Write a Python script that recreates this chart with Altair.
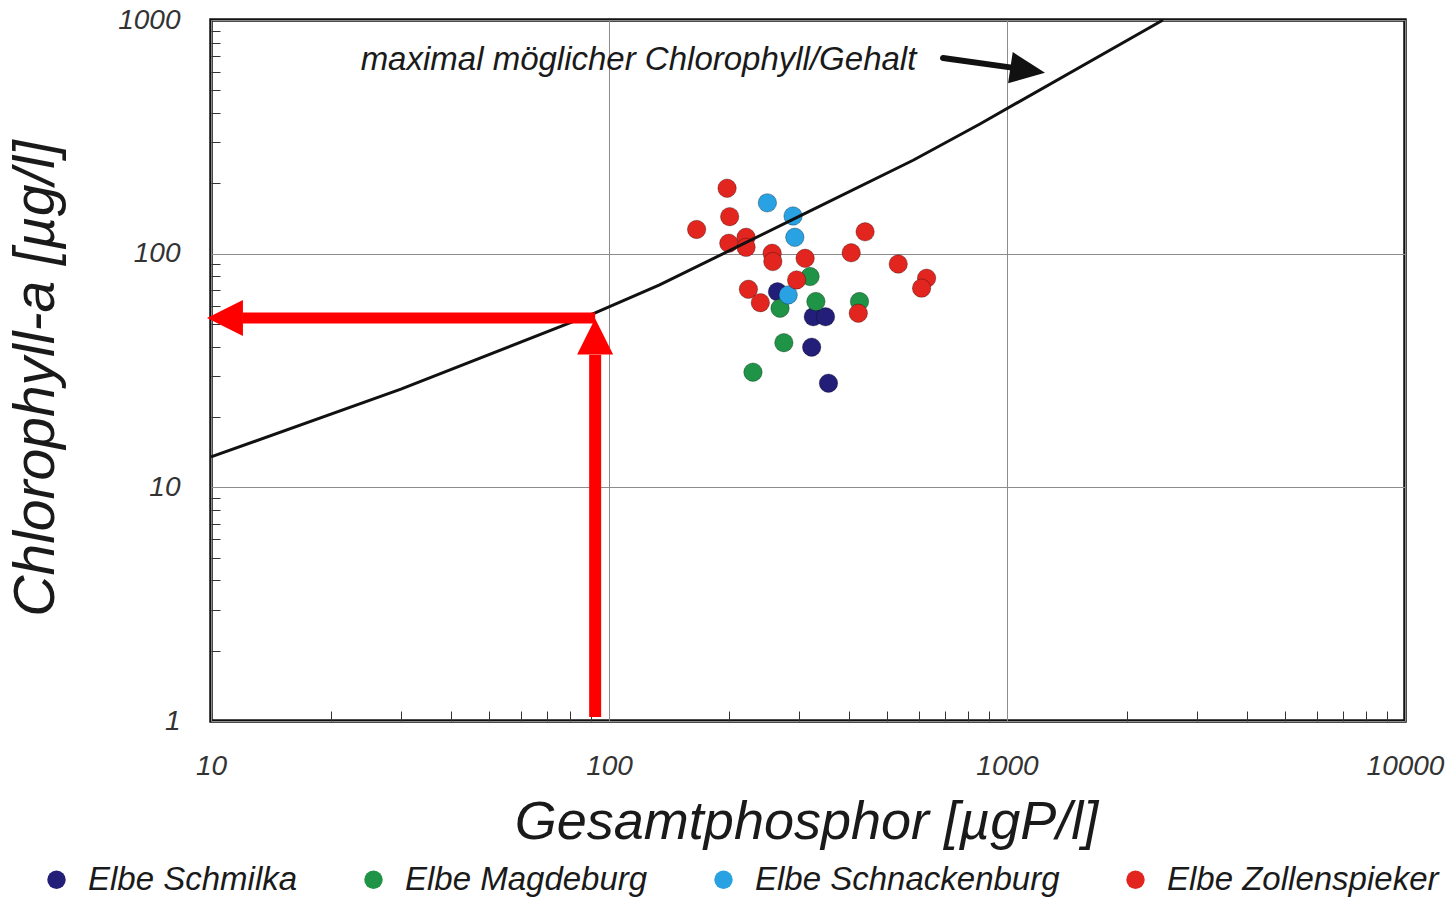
import altair as alt
import pandas as pd

FONT = "Liberation Sans"

# Gesamtphosphor [µgP/l] and Chlorophyll-a [µg/l] per Elbe station
schmilka_tp = [265, 326, 350, 323, 356]
schmilka_chl = [68.7, 53.7, 53.7, 39.8, 27.9]
magdeburg_tp = [320, 331, 269, 426, 275, 230]
magdeburg_chl = [79.8, 62.4, 58.4, 62.4, 41.6, 31.1]
schnackenburg_tp = [250, 290, 293, 282]
schnackenburg_chl = [165, 145, 117.5, 66.6]
zollenspieker_tp = [198, 201, 166, 200, 221, 221, 257, 258, 311, 296, 224, 240,
                    440, 406, 533, 628, 610, 423]
zollenspieker_chl = [190.5, 144, 127, 110.8, 117.5, 106.4, 100.4, 92.5, 95.5, 77.2,
                     70.4, 61.7, 124, 100.9, 90.3, 78.5, 71.2, 55.6]

stations = ["Elbe Schmilka", "Elbe Magdeburg", "Elbe Schnackenburg", "Elbe Zollenspieker"]
station_colors = ["#231f78", "#1f9447", "#28a2e2", "#e2261f"]

# curve of the maximum possible chlorophyll content
limit_tp = [10, 30, 92, 134, 302, 581, 855, 2466]
limit_chl = [13.5, 26.3, 55.7, 73.5, 145, 251, 359, 1000]

# reading example: TP of ~92 µgP/l allows ~53 µg/l chlorophyll
example_tp = 92.3
example_chl = 53.1

# axis values
x_major = [10, 100, 1000, 10000]
y_major = [1, 10, 100, 1000]
x_minor = [20, 30, 40, 50, 60, 70, 80, 90, 200, 300, 400, 500, 600, 700, 800, 900,
           2000, 3000, 4000, 5000, 6000, 7000, 8000, 9000]
y_minor = [2, 3, 4, 5, 6, 7, 8, 9, 20, 30, 40, 50, 60, 70, 80, 90,
           200, 300, 400, 500, 600, 700, 800, 900]

annotation = "maximal möglicher Chlorophyll/Gehalt"

rows = []
for name, tps, chls in [
    (stations[0], schmilka_tp, schmilka_chl),
    (stations[1], magdeburg_tp, magdeburg_chl),
    (stations[2], schnackenburg_tp, schnackenburg_chl),
    (stations[3], zollenspieker_tp, zollenspieker_chl),
]:
    for tp, chl in zip(tps, chls):
        rows.append({"tp": tp, "chl": chl, "station": name})
points = pd.DataFrame(rows)
limit = pd.DataFrame({"tp": limit_tp, "chl": limit_chl})

xs = alt.Scale(type="log", domain=[10, 10000], nice=False)
ys = alt.Scale(type="log", domain=[1, 1000], nice=False)

label_style = dict(labelFont=FONT, labelFontSize=28, labelFontStyle="italic",
                   labelColor="#333333", labelFlush=False, labelOverlap=False)
title_style = dict(titleFont=FONT, titleFontStyle="italic",
                   titleFontWeight="normal", titleColor="#1a1a1a",
                   titleAlign="center", titleBaseline="alphabetic")

x_axis = alt.Axis(orient="bottom", values=x_major, format=".0f", grid=True,
                  gridColor="#8c8c8c", gridWidth=1, ticks=False, domain=False,
                  labelPadding=31, title="Gesamtphosphor [µgP/l]",
                  titleFontSize=54, titleX=595, titleY=117,
                  **label_style, **title_style)
y_axis = alt.Axis(orient="left", values=y_major, format=".0f", grid=True,
                  gridColor="#8c8c8c", gridWidth=1, ticks=False, domain=False,
                  labelPadding=31, title="Chlorophyll-a [µg/l]",
                  titleFontSize=57, titleX=-158, titleY=358, titleAngle=270,
                  **label_style, **title_style)

# minor ticks drawn inward from the frame
x_minor_axis = alt.Axis(orient="bottom", values=x_minor, grid=False, labels=False,
                        domain=False, ticks=True, tickSize=10, tickColor="#333333",
                        tickWidth=1, offset=-10, title=None)
y_minor_axis = alt.Axis(orient="left", values=y_minor, grid=False, labels=False,
                        domain=False, ticks=True, tickSize=9, tickColor="#333333",
                        tickWidth=1, offset=-9, title=None)

axes_layer = alt.Chart(limit).mark_line(strokeOpacity=0).encode(
    x=alt.X("tp:Q", scale=xs, axis=x_axis),
    y=alt.Y("chl:Q", scale=ys, axis=y_axis),
)
minor_layer = alt.Chart(limit).mark_line(strokeOpacity=0).encode(
    x=alt.X("tp:Q", scale=xs, axis=x_minor_axis),
    y=alt.Y("chl:Q", scale=ys, axis=y_minor_axis),
)

scatter = alt.Chart(points).mark_circle(
    size=340, opacity=1, stroke="#000000", strokeOpacity=0.3, strokeWidth=1
).encode(
    x=alt.X("tp:Q", scale=xs, axis=None),
    y=alt.Y("chl:Q", scale=ys, axis=None),
    color=alt.Color(
        "station:N",
        scale=alt.Scale(domain=stations, range=station_colors),
        legend=alt.Legend(
            title=None, orient="none", legendX=-171, legendY=843,
            direction="horizontal", padding=0,
            labelFont=FONT, labelFontSize=33, labelFontStyle="italic",
            labelColor="#1a1a1a", labelLimit=500, labelOffset=15,
            columnPadding=59, symbolType="circle", symbolSize=340,
            symbolStrokeWidth=0, symbolOpacity=1,
        ),
    ),
)

limit_line = alt.Chart(limit).mark_line(color="#111111", strokeWidth=3).encode(
    x=alt.X("tp:Q", scale=xs, axis=None),
    y=alt.Y("chl:Q", scale=ys, axis=None),
)

# red reading arrows (shafts and heads)
shafts = pd.DataFrame({
    "x": [example_tp, example_tp],
    "y": [1.04, example_chl],
    "x2": [example_tp, 12.0],
    "y2": [36.9, example_chl],
    "w": [12, 11],
})
red_shafts = alt.Chart(shafts).mark_rule(color="#ff0000", strokeCap="butt").encode(
    x=alt.X("x:Q", scale=xs, axis=None),
    y=alt.Y("y:Q", scale=ys, axis=None),
    x2="x2:Q", y2="y2:Q",
    strokeWidth=alt.StrokeWidth("w:Q", scale=None),
)
up_head = alt.Chart(pd.DataFrame({"x": [example_tp], "y": [44.2]})).mark_point(
    shape="M0,-1L1,1L-1,1Z", filled=True, size=1296, color="#ff0000",
    opacity=1, strokeWidth=0,
).encode(x=alt.X("x:Q", scale=xs, axis=None), y=alt.Y("y:Q", scale=ys, axis=None))
left_head = alt.Chart(pd.DataFrame({"x": [10.84], "y": [example_chl]})).mark_point(
    shape="M-1,0L1,-1L1,1Z", filled=True, size=1296, color="#ff0000",
    opacity=1, strokeWidth=0,
).encode(x=alt.X("x:Q", scale=xs, axis=None), y=alt.Y("y:Q", scale=ys, axis=None))

# black arrow pointing at the limit curve
pointer = alt.Chart(pd.DataFrame({"x": [690.6], "y": [687.9], "x2": [1029.4], "y2": [625.3]})).mark_rule(
    color="#111111", strokeWidth=6, strokeCap="round"
).encode(
    x=alt.X("x:Q", scale=xs, axis=None), y=alt.Y("y:Q", scale=ys, axis=None),
    x2="x2:Q", y2="y2:Q",
)
pointer_head = alt.Chart(pd.DataFrame({"x": [1127.3], "y": [609.5]})).mark_point(
    shape="M1,0L-1,-0.9L-1,0.9Z", filled=True, size=1225, color="#111111",
    opacity=1, strokeWidth=0, angle=8.5,
).encode(x=alt.X("x:Q", scale=xs, axis=None), y=alt.Y("y:Q", scale=ys, axis=None))

label = alt.Chart(pd.DataFrame({"x": [118.6], "y": [610.6], "t": [annotation]})).mark_text(
    font=FONT, fontSize=33, fontStyle="italic", color="#1a1a1a",
    align="center", baseline="alphabetic",
).encode(x=alt.X("x:Q", scale=xs, axis=None), y=alt.Y("y:Q", scale=ys, axis=None), text="t:N")

chart = alt.layer(
    axes_layer, minor_layer, scatter, limit_line, red_shafts, up_head, left_head,
    pointer, pointer_head, label,
).resolve_axis(
    x="independent", y="independent"
).properties(
    width=1194, height=701,
    autosize=alt.AutoSizeParams(type="none"),
    padding={"left": 211, "top": 20, "right": 42, "bottom": 178},
    background="white",
).configure_view(
    stroke="#111111", strokeWidth=3.5,
)

chart.save("out.html", embed_options={"renderer": "svg", "actions": False})
